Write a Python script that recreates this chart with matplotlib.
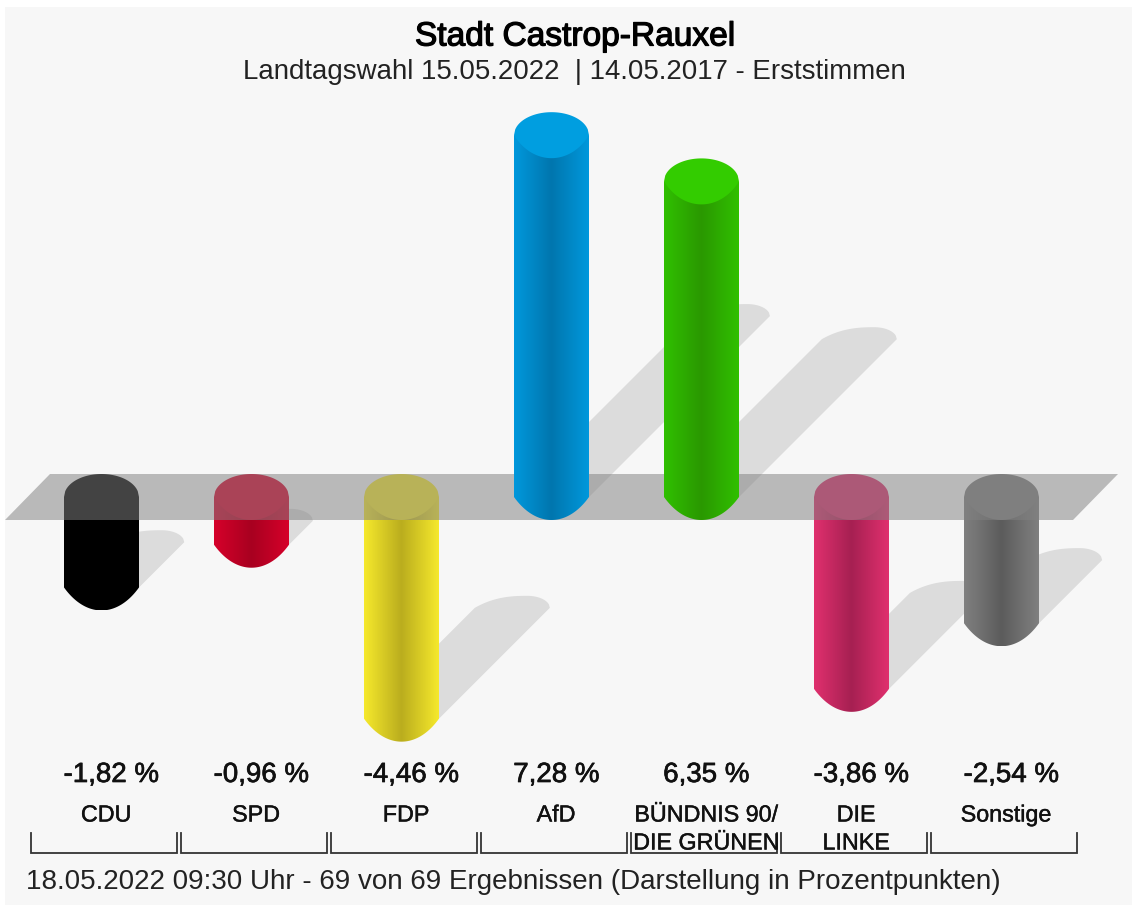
import numpy as np
import matplotlib
matplotlib.use("Agg")
import matplotlib.pyplot as plt
import matplotlib.patheffects as pe
from matplotlib.colors import LinearSegmentedColormap
from matplotlib.patches import Polygon, Rectangle

parties = ["CDU", "SPD", "FDP", "AfD", "BÜNDNIS 90/\nDIE GRÜNEN", "DIE\nLINKE", "Sonstige"]
values = [-1.82, -0.96, -4.46, 7.28, 6.35, -3.86, -2.54]
value_labels = ["-1,82 %", "-0,96 %", "-4,46 %", "7,28 %", "6,35 %", "-3,86 %", "-2,54 %"]
title = "Stadt Castrop-Rauxel"
subtitle = "Landtagswahl 15.05.2022  | 14.05.2017 - Erststimmen"
footer = "18.05.2022 09:30 Uhr - 69 von 69 Ergebnissen (Darstellung in Prozentpunkten)"
cap_colors = ["#000000", "#d8002a", "#f6e92c", "#009ee0", "#33cc00", "#dc2e6c", "#7e7e7e"]
edge_colors = ["#000000", "#d6002a", "#f6e92c", "#0098dc", "#30c000", "#e0306e", "#808080"]
core_colors = ["#000000", "#a80020", "#baad1e", "#0076ae", "#2a9800", "#a62052", "#5c5c5c"]

W, H = 1132, 905
X0, DX, Y0, PPU = 101.5, 150.0, 497.0, 49.7   # pixel position of category 0 / value 0, scales
HW = 37.5 / DX        # half bar width, in category units
EH = 23.0 / PPU       # half cap height, in value units
SH = 12.0 / PPU       # half shadow-cap height

BG = "#f7f7f7"
FONT = "Liberation Sans"

fig = plt.figure(figsize=(W / 100, H / 100), dpi=100, facecolor=BG)
ax = fig.add_axes([0, 0, 1, 1])
ax.set_xlim(-X0 / DX, (W - X0) / DX)
ax.set_ylim((Y0 - H) / PPU, Y0 / PPU)
ax.axis("off")


def upper_arc(n=60):
    t = np.linspace(-1, 1, n)
    return t, np.sqrt(1 - t ** 2)


def lower_arc(a, n=60):
    # pointed at the sides, like the reference
    t = np.linspace(-1, 1, n)
    k = np.sqrt(1 - 1 / a ** 2)
    return t, -(np.sqrt(1 - (t / a) ** 2) - k) / (1 - k)


def shadow_arc(n=80, p=0.4):
    # lopsided top of a shadow: long soft shoulder on the left, apex to the right
    t = np.linspace(-1, 1, n)
    left = 1 - (np.clip(p - t, 0, None) / (1 + p)) ** 2.5
    right = np.sqrt(np.clip(1 - (np.clip(t - p, 0, None) / (1 - p)) ** 2, 0, 1))
    return t, np.where(t < p, left, right)


def px(x, y):
    return x / W, 1 - y / H


def draw_text(x, y, s, size, stroke=0.0, color="#111111"):
    t = fig.text(*px(x, y), s, fontsize=size * 0.72, family=FONT, ha="center", va="center", color=color)
    if stroke:
        t.set_path_effects([pe.withStroke(linewidth=stroke, foreground=color)])
    return t


# white strips on the left and top edges
ax.add_patch(Rectangle((0, 0), 5 / W, 1, transform=ax.transAxes, fc="white", ec="none", zorder=0))
ax.add_patch(Rectangle((0, 1 - 7 / H), 1, 7 / H, transform=ax.transAxes, fc="white", ec="none", zorder=0))

# shadows
for i, v in enumerate(values):
    base = min(v, 0.0)
    d_cat = abs(v) * PPU / 2 / DX
    d_val = abs(v) / 2
    ts, ya = shadow_arc()
    xs = np.r_[i - HW, i + d_cat + ts * HW, i + HW]
    ys = np.r_[base, base + d_val + ya * SH, base]
    ax.add_patch(Polygon(np.c_[xs, ys], closed=True, fc="#dcdcdc", ec="none", zorder=1))

floor_x = np.array([5, 50, 1118, 1073])
floor_y = np.array([520, 474, 474, 520])
ax.add_patch(Polygon(np.c_[(floor_x - X0) / DX, (Y0 - floor_y) / PPU], closed=True,
                     fc=(129 / 255, 129 / 255, 129 / 255, 0.525), ec="none", zorder=3))

# bars
for i, v in enumerate(values):
    z = 2 if v < 0 else 4
    lo, hi = min(v, 0.0), max(v, 0.0)
    tl, yl = lower_arc(1.6)
    xs = np.r_[i + tl * HW, i + HW, i - HW]
    ys = np.r_[lo + yl * EH, hi, hi]
    body = Polygon(np.c_[xs, ys], closed=True, fc="none", ec="none", zorder=z)
    ax.add_patch(body)
    cmap = LinearSegmentedColormap.from_list("c", [edge_colors[i], core_colors[i], edge_colors[i]])
    img = ax.imshow(np.linspace(0, 1, 256)[None, :], cmap=cmap, aspect="auto", zorder=z,
                    extent=(i - HW, i + HW, lo - EH, hi), interpolation="bilinear")
    img.set_clip_path(body)
    tu, yu = upper_arc()
    tl, yl = lower_arc(1.25)
    cap = np.c_[np.r_[i + tu * HW, i + tl[::-1] * HW], np.r_[hi + yu * EH, hi + yl[::-1] * EH]]
    ax.add_patch(Polygon(cap, closed=True, fc=cap_colors[i], ec="none", zorder=z + 0.1))

ax.set_xlim(-X0 / DX, (W - X0) / DX)
ax.set_ylim((Y0 - H) / PPU, Y0 / PPU)

# text
draw_text(575, 37, title, 33.5, stroke=0.9, color="#000000")
draw_text(574, 72, subtitle, 27.6, color="#222222")
draw_text(513.5, 882, footer, 27.8, color="#222222")

for i, (lab, vl, v) in enumerate(zip(parties, value_labels, values)):
    cx = X0 + DX * i
    draw_text(cx + (10 if v < 0 else 5), 775, vl, 27.7, stroke=0.5, color="#111111")
    for j, line in enumerate(lab.split("\n")):
        draw_text(cx + 4.5, 815 + j * 28, line, 23.3, stroke=0.3, color="#111111")
    # bracket
    l, r = (cx - 70.5 - X0) / DX, (cx + 75.5 - X0) / DX
    yt, yb = (Y0 - 833) / PPU, (Y0 - 853) / PPU
    ax.plot([l, l, r, r], [yt, yb, yb, yt], color="#333333", lw=1.3, solid_joinstyle="miter", zorder=5)

fig.savefig("out.png", dpi=100, facecolor=BG)
